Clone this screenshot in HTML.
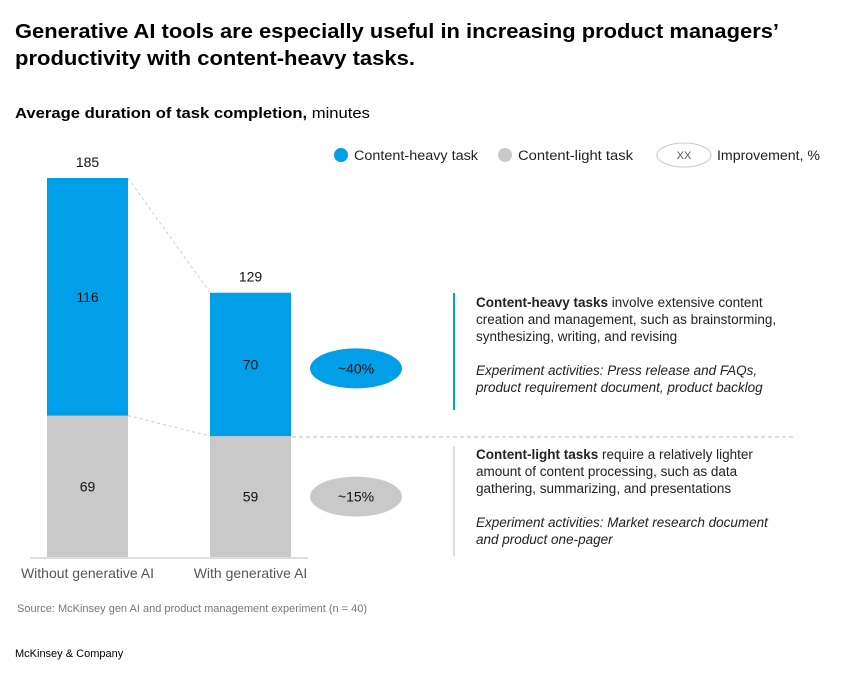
<!DOCTYPE html>
<html><head><meta charset="utf-8"><style>
body{margin:0;background:#fff;width:848px;height:681px;overflow:hidden;font-family:"Liberation Sans",sans-serif}
</style></head><body>
<svg width="848" height="681" viewBox="0 0 848 681" xmlns="http://www.w3.org/2000/svg" font-family="Liberation Sans, sans-serif">
<text x="15" y="38" font-size="20" font-weight="bold" fill="#000" textLength="764" lengthAdjust="spacingAndGlyphs">Generative AI tools are especially useful in increasing product managers’</text>
<text x="15" y="65" font-size="20" font-weight="bold" fill="#000" textLength="400" lengthAdjust="spacingAndGlyphs">productivity with content-heavy tasks.</text>
<text x="15" y="118" font-size="15" fill="#000" textLength="355" lengthAdjust="spacingAndGlyphs"><tspan font-weight="bold">Average duration of task completion,</tspan> minutes</text>
<g font-size="13.5" fill="#222">
<circle cx="341" cy="155" r="7" fill="#009fe8"/>
<text x="354" y="160" textLength="124" lengthAdjust="spacingAndGlyphs">Content-heavy task</text>
<circle cx="505" cy="155" r="7" fill="#c9c9c9"/>
<text x="518" y="160" textLength="115" lengthAdjust="spacingAndGlyphs">Content-light task</text>
<ellipse cx="684" cy="155" rx="27" ry="12" fill="#fff" stroke="#ccc"/>
<text x="684" y="159" text-anchor="middle" font-size="11" fill="#555">XX</text>
<text x="717" y="160" textLength="103" lengthAdjust="spacingAndGlyphs">Improvement, %</text>
</g>
<g id="chart"></g>
<line x1="292" y1="437" x2="795" y2="437" stroke="#bbb" stroke-dasharray="4,3"/>
<line x1="454" y1="293" x2="454" y2="410" stroke="#009fe8" stroke-width="2"/>
<line x1="454" y1="446" x2="454" y2="556" stroke="#bbb" stroke-width="1"/>
<g font-size="13.5" fill="#222">
<text x="476" y="307"><tspan font-weight="bold">Content-heavy tasks</tspan> involve extensive content</text>
<text x="476" y="324">creation and management, such as brainstorming,</text>
<text x="476" y="341">synthesizing, writing, and revising</text>
<text x="476" y="375" font-style="italic">Experiment activities: Press release and FAQs,</text>
<text x="476" y="392" font-style="italic">product requirement document, product backlog</text>
</g>
<g font-size="13.5" fill="#222">
<text x="476" y="459"><tspan font-weight="bold">Content-light tasks</tspan> require a relatively lighter</text>
<text x="476" y="476">amount of content processing, such as data</text>
<text x="476" y="493">gathering, summarizing, and presentations</text>
<text x="476" y="527" font-style="italic">Experiment activities: Market research document</text>
<text x="476" y="544" font-style="italic">and product one-pager</text>
</g>
<text x="17" y="612" font-size="11" fill="#777">Source: McKinsey gen AI and product management experiment (n = 40)</text>
<text x="15" y="657" font-size="11" fill="#000">McKinsey &amp; Company</text>
</svg>
<script>
const categories = ["Without generative AI", "With generative AI"];
const heavyValues = [116, 70];
const lightValues = [69, 59];
const improvements = ["~40%", "~15%"];
const NS = "http://www.w3.org/2000/svg";
const g = document.getElementById("chart");
const baseY = 557, pxPerMin = 379 / 185;
const barW = 81;
function xPos(i){ return 47 + i * 163; }
function yPos(v){ return baseY - v * pxPerMin; }
function mk(tag, attrs, parent){ const e = document.createElementNS(NS, tag); for (const k in attrs) e.setAttribute(k, attrs[k]); (parent||g).appendChild(e); return e; }
const tops = [], splits = [];
categories.forEach((c, i) => {
  const x = xPos(i), l = lightValues[i], h = heavyValues[i], tot = l + h;
  const split = yPos(l), top = yPos(tot);
  tops.push(top); splits.push(split);
  const lb = mk("rect", {x: x, y: split, width: barW, height: baseY - split, fill: "#c9c9c9"});
  
  
  const hb = mk("rect", {x: x, y: top, width: barW, height: split - top, fill: "#009fe8"});
  
  
  const t1 = mk("text", {x: x + barW/2, y: (split + baseY)/2 + 5, "text-anchor": "middle", "font-size": 14, fill: "#111"}); t1.textContent = l;
  
  
  const t2 = mk("text", {x: x + barW/2, y: (top + split)/2 + 5, "text-anchor": "middle", "font-size": 14, fill: "#111"}); t2.textContent = h;
  
  
  const t3 = mk("text", {x: x + barW/2, y: top - 11, "text-anchor": "middle", "font-size": 14, fill: "#111"}); t3.textContent = tot;
  
  
  const t4 = mk("text", {x: x + barW/2, y: 578, "text-anchor": "middle", "font-size": 14, fill: "#555"}); t4.textContent = c;
  
  
});
const c1 = mk("line", {x1: xPos(0)+barW, y1: tops[0], x2: xPos(1), y2: tops[1], stroke: "#ccc", "stroke-dasharray": "3,3"});


const c2 = mk("line", {x1: xPos(0)+barW, y1: splits[0], x2: xPos(1), y2: splits[1], stroke: "#ccc", "stroke-dasharray": "3,3"});


const ax = mk("line", {x1: 30, y1: baseY + 1, x2: 308, y2: baseY + 1, stroke: "#bbb"});


const bubbleY = [(tops[1] + splits[1]) / 2 + 4, (splits[1] + baseY) / 2];
improvements.forEach((txt, i) => {
  const e = mk("ellipse", {cx: 356, cy: bubbleY[i], rx: 46, ry: 20, fill: i === 0 ? "#009fe8" : "#c9c9c9"});
  
  
  const t = mk("text", {x: 356, y: bubbleY[i] + 5, "text-anchor": "middle", "font-size": 14, fill: "#111"}); t.textContent = txt;
  
  
});
</script>
</body></html>
